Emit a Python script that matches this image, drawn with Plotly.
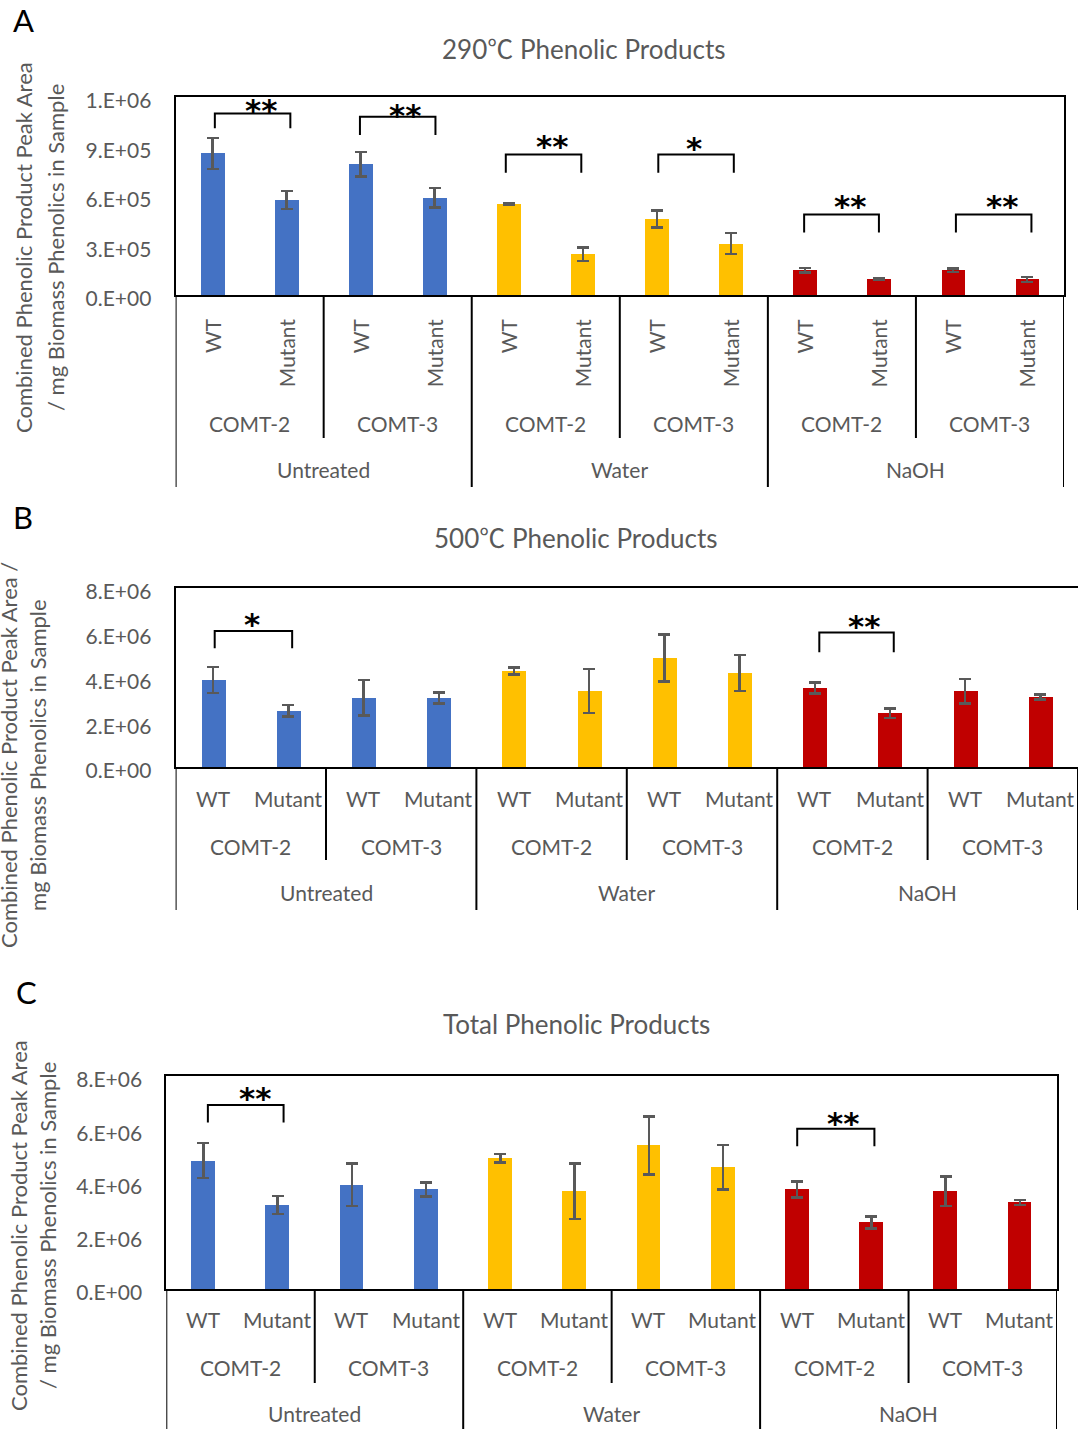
import plotly.graph_objects as go

W, H = 1078, 1429

# ---------------- data ----------------
treatments = ["Untreated", "Water", "NaOH"]
lines_ = ["COMT-2", "COMT-3"]
genotypes = ["WT", "Mutant"]
treat_colors = ["#4472C4", "#FFC000", "#C00000"]

# Panel A: 290 C phenolic products
a_vals = [8.58e5, 5.75e5, 7.92e5, 5.89e5, 5.51e5, 2.47e5, 4.60e5, 3.12e5, 1.50e5, 0.95e5, 1.50e5, 0.95e5]
a_errs = [9.5e4, 5.5e4, 7.4e4, 6.0e4, 5.0e3, 4.0e4, 5.2e4, 6.3e4, 1.4e4, 5.0e3, 1.2e4, 1.5e4]
# Panel B: 500 C phenolic products
b_vals = [3.89e6, 2.51e6, 3.09e6, 3.09e6, 4.29e6, 3.39e6, 4.87e6, 4.20e6, 3.53e6, 2.41e6, 3.39e6, 3.12e6]
b_errs = [5.9e5, 2.6e5, 7.9e5, 2.5e5, 1.5e5, 9.8e5, 1.05e6, 8.0e5, 2.5e5, 2.1e5, 5.5e5, 1.1e5]
# Panel C: total phenolic products
c_vals = [4.82e6, 3.15e6, 3.92e6, 3.74e6, 4.91e6, 3.67e6, 5.39e6, 4.57e6, 3.74e6, 2.50e6, 3.67e6, 3.25e6]
c_errs = [6.6e5, 3.4e5, 8.0e5, 2.6e5, 1.6e5, 1.04e6, 1.08e6, 8.3e5, 3.0e5, 2.2e5, 5.5e5, 1.0e5]

a_ticks = [0, 3e5, 6e5, 9e5, 1.2e6]
a_ticktext = ["0.E+00", "3.E+05", "6.E+05", "9.E+05", "1.E+06"]
bc_ticks = [0, 2e6, 4e6, 6e6, 8e6]
bc_ticktext = ["0.E+00", "2.E+06", "4.E+06", "6.E+06", "8.E+06"]

DEG = "<span style='font-family:Noto Sans CJK SC'>\u2103</span>"
titles = ["290" + DEG + " Phenolic Products", "500" + DEG + " Phenolic Products", "Total Phenolic Products"]
panel_letters = ["A", "B", "C"]
ytitles = [
    ["Combined Phenolic Product Peak Area", "/ mg Biomass Phenolics in Sample"],
    ["Combined Phenolic Product Peak Area /", "mg Biomass Phenolics in Sample"],
    ["Combined Phenolic Product Peak Area", "/ mg Biomass Phenolics in Sample"],
]

# significance brackets: (left x, right x, top y, leg-bottom y, star x, star y, label)
a_sig = [
    (0.03, 1.05, 1.10e6, 1.01e6, 0.65, 1.16e6, "**"),
    (1.99, 3.01, 1.08e6, 0.97e6, 2.60, 1.13e6, "**"),
    (3.96, 4.98, 8.52e5, 7.41e5, 4.59, 9.39e5, "**"),
    (6.02, 7.04, 8.52e5, 7.41e5, 6.50, 9.29e5, "*"),
    (7.99, 9.00, 4.88e5, 3.79e5, 8.61, 5.75e5, "**"),
    (10.04, 11.06, 4.88e5, 3.79e5, 10.66, 5.75e5, "**"),
]
b_sig = [
    (0.02, 1.05, 6.08e6, 5.31e6, 0.51, 6.65e6, "*"),
    (8.06, 9.05, 6.01e6, 5.13e6, 8.65, 6.58e6, "**"),
]
c_sig = [
    (0.06, 1.08, 6.91e6, 6.25e6, 0.69, 7.40e6, "**"),
    (8.00, 9.04, 6.02e6, 5.36e6, 8.62, 6.46e6, "**"),
]

# ---------------- layout geometry (pixels) ----------------
FONT = "Lato, Noto Sans CJK SC, sans-serif"
GREY = "#595959"

panels = [
    dict(vals=a_vals, errs=a_errs, ticks=a_ticks, ticktext=a_ticktext, yrange=[0, 1.2e6], sig=a_sig,
         xpx=(175.6, 1064.0), ypx=(97.0, 295.0), rotated=True,
         geno_y=316, line_y=423, treat_y=470, short_end=438, long_end=487,
         title_xy=(583, 48), letter_xy=(23, 20), ytitle_x=(24, 56), ytitle_y=248),
    dict(vals=b_vals, errs=b_errs, ticks=bc_ticks, ticktext=bc_ticktext, yrange=[0, 8e6], sig=b_sig,
         xpx=(175.6, 1078.0), ypx=(588.0, 767.0), rotated=False,
         geno_y=798, line_y=846, treat_y=892, short_end=860, long_end=910,
         title_xy=(575, 537), letter_xy=(23, 517), ytitle_x=(8, 37), ytitle_y=755),
    dict(vals=c_vals, errs=c_errs, ticks=bc_ticks, ticktext=bc_ticktext, yrange=[0, 8e6], sig=c_sig,
         xpx=(166.3, 1057.0), ypx=(1076.0, 1289.0), rotated=False,
         geno_y=1319, line_y=1367, treat_y=1413, short_end=1383, long_end=1429,
         title_xy=(576, 1024), letter_xy=(26, 992), ytitle_x=(18, 47), ytitle_y=1226),
]

def xp(px):
    return px / W

def yp(py):
    return 1 - py / H

fig = go.Figure()
annotations = []
shapes = []

cat_x = list(range(12))
bar_colors = [treat_colors[i // 4] for i in range(12)]
geno_labels = [genotypes[i % 2] for i in range(12)]
line_labels = [lines_[i % 2] for i in range(6)]

for k, p in enumerate(panels):
    sfx = "" if k == 0 else str(k + 1)
    xa, ya = "x" + sfx, "y" + sfx
    fig.add_trace(go.Bar(
        x=cat_x, y=p["vals"], xaxis=xa, yaxis=ya, width=0.32,
        marker=dict(color=bar_colors, line=dict(width=0)),
        error_y=dict(type="data", array=p["errs"], visible=True, color=GREY, thickness=2.5, width=6),
        showlegend=False, hoverinfo="skip",
    ))
    for (x0, x1, ytop, yleg, sx, sy, lab) in p["sig"]:
        fig.add_trace(go.Scatter(
            x=[x0, x0, x1, x1], y=[yleg, ytop, ytop, yleg], xaxis=xa, yaxis=ya,
            mode="lines", line=dict(color="black", width=2), showlegend=False, hoverinfo="skip",
        ))
        annotations.append(dict(
            x=sx, y=sy, xref=xa, yref=ya, text="<b>" + lab + "</b>", showarrow=False,
            font=dict(family="DejaVu Sans", size=31, color="black"),
            xanchor="center", yanchor="middle", yshift=-6,
        ))

    x0px, x1px = p["xpx"]
    y0px, y1px = p["ypx"]
    fig.update_layout(**{
        ("xaxis" + sfx): dict(
            domain=[xp(x0px), min(xp(x1px), 1.0)], anchor=ya, range=[-0.5, 11.5],
            showticklabels=False, ticks="", showgrid=False, zeroline=False, automargin=False,
            showline=True, mirror=True, linecolor="black", linewidth=2, fixedrange=True,
        ),
        ("yaxis" + sfx): dict(
            domain=[yp(y1px), yp(y0px)], anchor=xa, range=p["yrange"], automargin=False,
            tickvals=p["ticks"], ticktext=p["ticktext"], ticks="", ticklabelstandoff=18,
            ticklabelshift=4,
            tickfont=dict(family=FONT, size=21, color=GREY),
            showgrid=False, zeroline=False,
            showline=True, mirror=True, linecolor="black", linewidth=2, fixedrange=True,
        ),
    })

    # category labels
    for i in range(12):
        if p["rotated"]:
            annotations.append(dict(
                x=i, y=yp(p["geno_y"]), xref=xa, yref="paper", text=geno_labels[i], showarrow=False,
                textangle=-90, xanchor="center", yanchor="top",
                font=dict(family=FONT, size=21, color=GREY),
            ))
        else:
            annotations.append(dict(
                x=i, y=yp(p["geno_y"]), xref=xa, yref="paper", text=geno_labels[i], showarrow=False,
                xanchor="center", yanchor="middle",
                font=dict(family=FONT, size=21, color=GREY),
            ))
    for j in range(6):
        annotations.append(dict(
            x=2 * j + 0.5, y=yp(p["line_y"]), xref=xa, yref="paper", text=line_labels[j], showarrow=False,
            xanchor="center", yanchor="middle", font=dict(family=FONT, size=21, color=GREY),
        ))
    for t in range(3):
        annotations.append(dict(
            x=4 * t + 1.5, y=yp(p["treat_y"]), xref=xa, yref="paper", text=treatments[t], showarrow=False,
            xanchor="center", yanchor="middle", font=dict(family=FONT, size=21, color=GREY),
        ))
    # category divider lines
    for j in range(7):
        xv = -0.5 + 2 * j
        end = p["long_end"] if j % 2 == 0 else p["short_end"]
        shapes.append(dict(
            type="line", xref=xa, yref="paper", x0=xv, x1=xv, y0=yp(y1px), y1=yp(end),
            line=dict(color="black", width=2),
        ))

    # titles, letters, y titles
    annotations.append(dict(
        x=xp(p["title_xy"][0]), y=yp(p["title_xy"][1]), xref="paper", yref="paper",
        text=titles[k], showarrow=False, xanchor="center", yanchor="middle",
        font=dict(family=FONT, size=26, color=GREY),
    ))
    annotations.append(dict(
        x=xp(p["letter_xy"][0]), y=yp(p["letter_xy"][1]), xref="paper", yref="paper",
        text=panel_letters[k], showarrow=False, xanchor="center", yanchor="middle",
        font=dict(family=FONT, size=31, color="black"),
    ))
    for li in range(2):
        annotations.append(dict(
            x=xp(p["ytitle_x"][li]), y=yp(p["ytitle_y"]), xref="paper", yref="paper",
            text=ytitles[k][li], showarrow=False, xanchor="center", yanchor="middle", textangle=-90,
            font=dict(family=FONT, size=22, color=GREY),
        ))

fig.update_layout(
    width=W, height=H, margin=dict(l=0, r=0, t=0, b=0, autoexpand=False),
    paper_bgcolor="white", plot_bgcolor="white",
    annotations=annotations, shapes=shapes, bargap=0,
    font=dict(family=FONT, color=GREY),
)

fig.write_html("out.html")
